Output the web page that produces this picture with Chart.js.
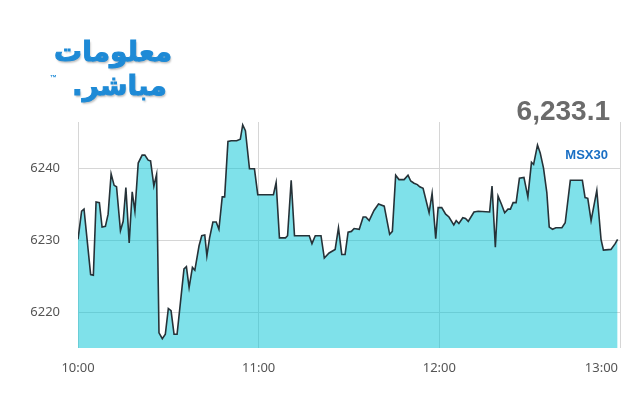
<!DOCTYPE html>
<html>
<head>
<meta charset="utf-8">
<script src="https://cdn.jsdelivr.net/npm/chart.js@4"></script>
<style>
  body { margin: 0; background: #fff; }
  #wrap { position: relative; width: 640px; height: 400px; }
  .logo { position: absolute; font-family: "DejaVu Sans", sans-serif; font-weight: bold; color: #1e8ad6;
          text-shadow: 1px 2px 2px rgba(0,0,0,0.25); direction: rtl; white-space: nowrap;
          -webkit-text-stroke: 1px #1e8ad6; }
  #logo1 { left: 54px; top: 35px; font-size: 28px; }
  #logo2 { left: 72px; top: 69px; font-size: 28px; }
  #tm { position: absolute; left: 50px; top: 74px; font: bold 7px Arial, sans-serif; color: #1e8ad6; }
  #last { position: absolute; right: 30px; top: 95px; font: bold 28px "Liberation Sans", Arial, sans-serif; color: #6b6b6b; }
  #sym { position: absolute; right: 32px; top: 147px; font: bold 13px "Liberation Sans", Arial, sans-serif; color: #1a6fc4; }
</style>
</head>
<body>
<div id="wrap">
  <canvas id="grafico" width="640" height="400"></canvas>
  <div class="logo" id="logo1">معلومات</div>
  <div class="logo" id="logo2">مباشر.</div>
  <div id="tm">™</div>
  <div id="last">6,233.1</div>
  <div id="sym">MSX30</div>
</div>
<script>
// minutos depois das 10:00
const minutos = [0, 1.2, 2.0, 4.2, 5.1, 6.0, 7.1, 8.0, 9.1, 10.0, 11.0, 12.0, 12.8, 14.1, 15.0, 15.9, 17.0, 18.0, 18.9, 20.0,
  21.3, 22.2, 23.3, 24.1, 25.2, 26.1, 26.9, 28.0, 29.0, 30.0, 30.9, 31.9, 32.9, 35.2, 36.0, 36.9, 38.0, 38.8, 40.2, 41.1,
  42.1, 42.8, 43.7, 44.8, 45.9, 46.8, 47.9, 48.7, 49.8, 50.9, 52.7, 53.9, 54.7, 55.6, 56.95, 58.6, 59.7, 64.9, 65.8, 66.9,
  68.9, 69.6, 70.8, 71.9, 76.8, 77.7, 78.8, 80.7, 81.8, 83.4, 85.4, 86.5, 87.6, 88.7, 89.7, 90.8, 91.7, 93.4, 94.7, 95.6,
  96.7, 98.3, 99.8, 101.7, 103.5, 104.4, 105.5, 106.6, 108.3, 109.6, 110.5, 111.6, 112.7, 113.5, 114.6, 116.6, 117.6, 118.8, 119.6, 120.8,
  122.1, 123.2, 124.8, 125.6, 126.5, 127.8, 128.7, 129.6, 131.5, 132.9, 136.7, 137.5, 138.6, 139.5, 140.6, 141.7, 142.8, 143.6, 144.5, 145.5,
  146.6, 148.1, 149.4, 150.6, 151.3, 152.6, 153.5, 154.6, 155.7, 156.5, 157.6, 158.7, 160.7, 161.8, 163.5, 167.5, 168.4, 169.3, 170.4, 172.3,
  173.7, 174.5, 177.0, 178.4, 179.2];
// valores do índice
const valores = [6230.1, 6234.0, 6234.3, 6225.2, 6225.1, 6235.3, 6235.2, 6231.8, 6231.9, 6233.6, 6239.2, 6237.6, 6237.4, 6231.3, 6232.6, 6237.3, 6229.6, 6236.7, 6234.0, 6240.7,
  6241.8, 6241.8, 6241.1, 6241.0, 6237.5, 6239.1, 6217.1, 6216.3, 6216.9, 6220.5, 6220.2, 6216.9, 6216.9, 6226.0, 6226.3, 6223.4, 6226.2, 6225.8, 6229.2, 6230.6,
  6230.7, 6227.8, 6230.3, 6232.5, 6232.5, 6231.5, 6236.0, 6236.0, 6243.7, 6243.8, 6243.8, 6244.0, 6246.0, 6245.2, 6239.9, 6239.9, 6236.3, 6236.3, 6238.0, 6230.3,
  6230.3, 6230.6, 6238.3, 6230.6, 6230.6, 6229.5, 6230.6, 6230.6, 6227.5, 6228.2, 6228.7, 6231.7, 6228.0, 6228.0, 6231.1, 6231.2, 6231.6, 6231.5, 6233.2, 6233.2,
  6232.7, 6234.1, 6235.0, 6234.7, 6230.8, 6231.2, 6239.0, 6238.4, 6238.4, 6239.0, 6238.2, 6237.9, 6237.7, 6237.4, 6237.2, 6233.8, 6236.5, 6230.2, 6234.5, 6234.5,
  6233.6, 6233.2, 6232.1, 6232.7, 6232.3, 6233.1, 6233.0, 6232.6, 6233.9, 6234.0, 6233.9, 6237.5, 6229.0, 6236.1, 6235.0, 6233.8, 6234.3, 6234.3, 6235.2, 6235.2,
  6238.6, 6238.7, 6236.0, 6240.8, 6240.5, 6243.2, 6242.1, 6240.0, 6236.6, 6231.8, 6231.5, 6231.7, 6231.7, 6232.4, 6238.3, 6238.3, 6235.9, 6235.8, 6232.7, 6236.9,
  6230.1, 6228.6, 6228.7, 6229.5, 6230.1];

// ticks dos eixos
const ticksX = [0, 60, 120, 180];
const rotulosX = ["10:00", "11:00", "12:00", "13:00"];
const ticksY = [6220, 6230, 6240];

const pontos = minutos.map((m, i) => ({ x: m, y: valores[i] }));

const ctx = document.querySelector("#grafico");

new Chart(ctx, {
    type: 'line',
    data: {
        datasets: [
            {
                label: "MSX30",
                data: pontos,
                borderColor: "#263238",
                borderWidth: 1.6,
                backgroundColor: "rgba(0, 196, 214, 0.5)",
                fill: 'start',
                pointRadius: 0,
                tension: 0
            }
        ]
    },
    options: {
        responsive: false,
        animation: false,
        layout: { padding: { top: 122, right: 20, left: 0, bottom: 0 } },
        plugins: {
            legend: { display: false },
            tooltip: { enabled: false }
        },
        scales: {
            x: {
                type: 'linear',
                min: 0,
                max: 180,
                afterBuildTicks: eixo => { eixo.ticks = ticksX.map(v => ({ value: v })); },
                afterFit: eixo => { eixo.height = 52; eixo.paddingLeft = 0; eixo.paddingRight = 0; },
                grid: { color: "#d6d6d6", drawTicks: false },
                border: { display: false },
                ticks: {
                    padding: 12,
                    maxRotation: 0,
                    color: "#555",
                    font: { family: "Noto Sans", size: 13 },
                    // o último rótulo fica encostado na borda direita
                    callback: (v, i, lista) => rotulosX[ticksX.indexOf(v)] + (i === lista.length - 1 ? "\u2007\u2007\u2007\u2007\u2007" : "")
                }
            },
            y: {
                min: 6215,
                max: 6246.4,
                afterBuildTicks: eixo => { eixo.ticks = ticksY.map(v => ({ value: v })); },
                afterFit: eixo => { eixo.width = 78; },
                grid: { color: "#d6d6d6", drawTicks: false },
                border: { display: false },
                ticks: {
                    padding: 18,
                    color: "#555",
                    font: { family: "Noto Sans", size: 13 },
                    callback: v => String(v)
                }
            }
        }
    }
})
</script>
</body>
</html>
